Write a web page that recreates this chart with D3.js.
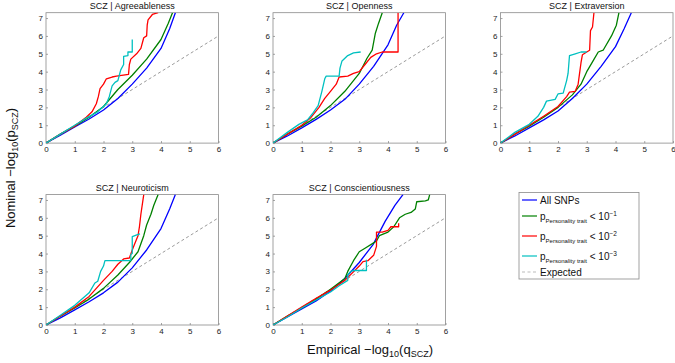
<!DOCTYPE html>
<html>
<head>
<meta charset="utf-8">
<script src="https://cdn.jsdelivr.net/npm/d3@7"></script>
<style>
  body { margin: 0; background: #fff; }
  svg { font-family: "Liberation Sans", Arial, sans-serif; }
  .tick text { font-size: 8px; fill: #222; }
</style>
</head>
<body>
<div id="chart"></div>
<script>
// DATA
const titles = ["SCZ | Agreeableness", "SCZ | Openness", "SCZ | Extraversion",
                "SCZ | Neuroticism", "SCZ | Conscientiousness"];
const xTicks = [0, 1, 2, 3, 4, 5, 6];
const yTicks = [0, 1, 2, 3, 4, 5, 6, 7];
const expected = [[0, 0], [6, 6]];

// Agreeableness
const agrAll = [[0,0],[0.5,0.45],[1,0.9],[1.5,1.35],[2,1.85],[2.5,2.5],[3,3.3],[3.5,4.2],[4,5.3],[4.3,6.4],[4.5,7.3]];
const agrP1 = [[0,0],[0.5,0.5],[1,0.95],[1.5,1.45],[2,2.05],[2.5,3.0],[3,3.8],[3.5,4.7],[4,5.8],[4.25,6.7],[4.4,7.3]];
const agrP2 = [[0,0],[0.5,0.5],[1,0.95],[1.4,1.45],[1.6,1.75],[1.75,2.2],[1.82,2.6],[1.88,3.05],[2.0,3.3],[2.1,3.6],[2.3,3.7],[2.45,3.75],[2.87,3.85],[2.9,4.4],[2.95,4.7],[3.15,5.0],[3.3,5.3],[3.4,5.9],[3.5,6.0],[3.52,6.6],[3.55,6.9],[3.7,7.2],[3.9,7.3]];
const agrP3 = [[0,0],[0.5,0.5],[1,1.0],[1.4,1.4],[1.8,1.75],[2.1,2.2],[2.2,2.6],[2.3,3.2],[2.4,3.4],[2.5,3.5],[2.55,3.8],[2.6,4.1],[2.7,4.4],[2.7,4.85],[2.85,4.9],[2.85,5.1],[3.0,5.1],[3.0,5.8]];

// Openness
const opeAll = [[0,0],[0.5,0.4],[1,0.85],[1.5,1.33],[2,1.85],[2.5,2.45],[3,3.3],[3.5,4.3],[4,5.5],[4.3,6.6],[4.55,7.3]];
const opeP1 = [[0,0],[0.5,0.5],[1,0.95],[1.5,1.45],[2,2.1],[2.5,2.9],[3,3.9],[3.27,4.75],[3.45,5.2],[3.56,6.15],[3.67,6.7],[3.8,7.3]];
const opeP2 = [[0,0],[0.5,0.5],[1,1.0],[1.3,1.4],[1.6,2.0],[1.8,2.5],[2.0,2.9],[2.2,3.3],[2.3,3.7],[2.6,3.75],[2.8,3.9],[3.0,4.0],[3.2,4.4],[3.4,4.8],[3.6,5.0],[3.8,5.1],[4.35,5.1],[4.35,7.3]];
const opeP3 = [[0,0],[0.5,0.6],[0.9,1.05],[1.2,1.3],[1.4,1.7],[1.57,2.1],[1.7,2.9],[1.8,3.6],[1.85,3.75],[2.3,3.75],[2.33,4.2],[2.4,4.6],[2.6,4.9],[2.8,5.05],[3.05,5.1]];

// Extraversion
const extAll = [[0,0],[0.5,0.4],[1,0.85],[1.5,1.3],[2,1.8],[2.5,2.5],[3,3.3],[3.5,4.3],[4,5.4],[4.3,6.4],[4.55,7.3]];
const extP1 = [[0,0],[0.5,0.5],[1,0.95],[1.5,1.45],[2,2.0],[2.5,2.7],[2.8,3.3],[3.0,4.0],[3.22,4.6],[3.4,5.1],[3.57,5.2],[3.86,6.0],[4.03,6.6],[4.12,7.3]];
const extP2 = [[0,0],[0.5,0.5],[1,1.0],[1.5,1.5],[2,2.05],[2.3,2.6],[2.4,2.85],[2.6,2.9],[2.7,3.3],[2.75,3.9],[2.8,4.5],[2.85,4.95],[3.0,5.1],[3.1,5.2],[3.13,6.3],[3.2,6.5],[3.25,7.3]];
const extP3 = [[0,0],[0.5,0.6],[1,1.05],[1.3,1.5],[1.5,2.0],[1.6,2.35],[1.9,2.45],[2.0,2.75],[2.18,2.8],[2.3,3.5],[2.35,3.9],[2.4,4.9],[2.6,5.0],[2.8,5.1],[3.0,5.1]];

// Neuroticism
const neuAll = [[0,0],[0.5,0.4],[1,0.85],[1.5,1.3],[2,1.8],[2.5,2.4],[3,3.2],[3.5,4.2],[4,5.4],[4.3,6.5],[4.5,7.3]];
const neuP1 = [[0,0],[0.5,0.5],[1,0.95],[1.5,1.45],[2,2.05],[2.5,2.8],[2.9,3.5],[3.2,4.1],[3.4,5.0],[3.5,5.6],[3.65,6.2],[3.75,6.7],[3.9,7.3]];
const neuP2 = [[0,0],[0.5,0.5],[1,1.0],[1.5,1.6],[2,2.5],[2.3,3.0],[2.5,3.4],[2.7,3.7],[2.9,3.75],[3.0,4.2],[3.1,4.6],[3.2,5.0],[3.25,5.5],[3.3,6.2],[3.4,7.3]];
const neuP3 = [[0,0],[0.5,0.55],[1,1.1],[1.5,1.8],[1.7,2.35],[1.8,2.45],[1.9,3.0],[2.0,3.3],[2.05,3.6],[2.95,3.6],[2.95,3.95],[3.0,4.0],[3.0,4.95],[3.16,5.05],[3.27,5.1]];

// Conscientiousness
const conAll = [[0,0],[0.5,0.45],[1,0.9],[1.5,1.35],[2,1.9],[2.5,2.6],[3,3.5],[3.48,4.5],[3.9,5.8],[4.24,6.7],[4.52,7.3]];
const conP1 = [[0,0],[0.5,0.5],[1,0.95],[1.5,1.45],[2,2.0],[2.5,2.6],[2.6,3.0],[2.8,3.6],[3,4.1],[3.2,4.3],[3.5,4.6],[3.6,4.7],[3.7,5.0],[4.0,5.2],[4.2,5.5],[4.4,6.0],[4.6,6.2],[4.8,6.3],[4.95,6.5],[5.0,6.9],[5.3,6.95],[5.4,7.0],[5.45,7.3]];
const conP2 = [[0,0],[0.5,0.5],[1,1.0],[1.5,1.5],[2,1.95],[2.5,2.5],[3,3.3],[3.13,3.55],[3.3,3.6],[3.5,3.9],[3.6,4.4],[3.6,5.2],[3.8,5.2],[4.0,5.3],[4.1,5.5],[4.37,5.5],[4.37,5.7]];
const conP3 = [[0,0],[0.5,0.45],[1,0.95],[1.5,1.4],[2,1.85],[2.3,2.2],[2.6,2.5],[2.6,2.8],[2.7,3.0],[2.8,3.05],[3.25,3.05],[3.25,3.65]];

const seriesNames = ["All SNPs", "p1", "p2", "p3"];
const seriesColors = ["#0000ff", "#008000", "#ff0000", "#00c0c0"];
const panelSeries = [
    [agrAll, agrP1, agrP2, agrP3],
    [opeAll, opeP1, opeP2, opeP3],
    [extAll, extP1, extP2, extP3],
    [neuAll, neuP1, neuP2, neuP3],
    [conAll, conP1, conP2, conP3]
];

// LAYOUT
const W = 675, H = 363;
const colLeft = [46, 273, 500.5];
const rowTop = [12.7, 194.6];
const pw = 172.5, ph = 130.4;

const svg = d3.select("#chart").append("svg")
    .attr("width", W)
    .attr("height", H);

const x = d3.scaleLinear().domain([0, 6]).range([0, pw]);
const y = d3.scaleLinear().domain([0, 7.3]).range([ph, 0]);
const line = d3.line().x(d => x(d[0])).y(d => y(d[1]));

panelSeries.forEach((series, i) => {
    const col = i % 3, row = Math.floor(i / 3);
    const g = svg.append("g")
        .attr("transform", "translate(" + colLeft[col] + "," + rowTop[row] + ")");

    g.append("clipPath").attr("id", "clip" + i)
        .append("rect").attr("width", pw).attr("height", ph);

    // axes box
    g.append("rect")
        .attr("width", pw).attr("height", ph)
        .attr("fill", "none").attr("stroke", "#8a8a8a").attr("stroke-width", 0.8);

    const xa = g.append("g")
        .attr("class", "x axis")
        .attr("transform", "translate(0," + ph + ")")
        .call(d3.axisBottom(x).tickValues(xTicks).tickSize(-2).tickPadding(3).tickFormat(d3.format("d")));
    const ya = g.append("g")
        .attr("class", "y axis")
        .call(d3.axisLeft(y).tickValues(yTicks).tickSize(-2).tickPadding(3).tickFormat(d3.format("d")));
    [xa, ya].forEach(a => {
        a.select(".domain").remove();
        a.selectAll(".tick line").attr("stroke", "#8a8a8a").attr("stroke-width", 0.8);
    });

    const plot = g.append("g").attr("clip-path", "url(#clip" + i + ")");

    plot.append("path")
        .datum(expected)
        .attr("d", line)
        .attr("fill", "none")
        .attr("stroke", "#9a9a9a")
        .attr("stroke-width", 1)
        .attr("stroke-dasharray", "3,2.5");

    series.forEach((s, j) => {
        plot.append("path")
            .datum(s)
            .attr("d", line)
            .attr("fill", "none")
            .attr("stroke", seriesColors[j])
            .attr("stroke-width", 1.3)
            .attr("stroke-linejoin", "round");
    });

    g.append("text")
        .attr("x", pw / 2).attr("y", -3.5)
        .attr("text-anchor", "middle")
        .attr("font-size", 9)
        .attr("fill", "#111")
        .text(titles[i]);
});

// AXIS LABELS
const ylab = svg.append("text")
    .attr("transform", "translate(15,168) rotate(-90)")
    .attr("text-anchor", "middle")
    .attr("font-size", 13)
    .attr("fill", "#111");
ylab.append("tspan").text("Nominal \u2212log");
ylab.append("tspan").attr("font-size", 9).attr("dy", 3).text("10");
ylab.append("tspan").attr("dy", -3).text("(p");
ylab.append("tspan").attr("font-size", 9).attr("dy", 3).text("SCZ");
ylab.append("tspan").attr("dy", -3).text(")");

const xlab = svg.append("text")
    .attr("x", 370).attr("y", 354)
    .attr("text-anchor", "middle")
    .attr("font-size", 13)
    .attr("fill", "#111");
xlab.append("tspan").text("Empirical \u2212log");
xlab.append("tspan").attr("font-size", 9).attr("dy", 3).text("10");
xlab.append("tspan").attr("dy", -3).text("(q");
xlab.append("tspan").attr("font-size", 9).attr("dy", 3).text("SCZ");
xlab.append("tspan").attr("dy", -3).text(")");

// LEGEND
const legend = svg.append("g").attr("transform", "translate(519,192.5)");
legend.append("rect")
    .attr("width", 120).attr("height", 86.5)
    .attr("fill", "#fff").attr("stroke", "#8a8a8a").attr("stroke-width", 0.8);

const legendRows = [7.5, 23.5, 43.5, 63.5, 79.5];
const legendKeys = [0, 1, 2, 3, -1];
const expo = [null, "\u22121", "\u22122", "\u22123"];
legendKeys.forEach((k, r) => {
    const ly = legendRows[r];
    legend.append("line")
        .attr("x1", 3).attr("x2", 18).attr("y1", ly).attr("y2", ly)
        .attr("stroke", k < 0 ? "#bbbbbb" : seriesColors[k])
        .attr("stroke-width", k < 0 ? 1 : 1.2)
        .attr("stroke-dasharray", k < 0 ? "3,2.5" : null);
    const t = legend.append("text")
        .attr("x", 21).attr("y", ly + 3.5)
        .attr("font-size", 10)
        .attr("fill", "#111");
    if (k === 0) t.text(seriesNames[0]);
    else if (k < 0) t.text("Expected");
    else {
        t.append("tspan").text("p");
        t.append("tspan").attr("font-size", 6).attr("dy", 3.5).text("Personality trait");
        t.append("tspan").attr("dy", -3.5).text(" < 10");
        t.append("tspan").attr("font-size", 6.5).attr("dy", -4).text(expo[k]);
    }
});
</script>
</body>
</html>
